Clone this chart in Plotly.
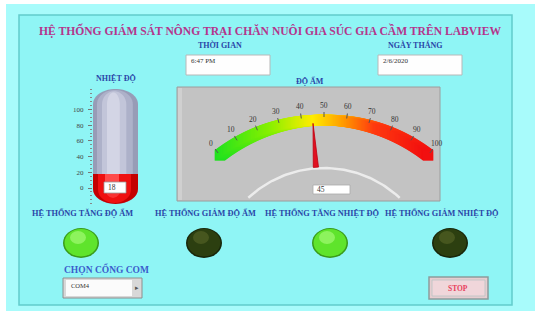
import numpy as np
import plotly.graph_objects as go

W, H = 535, 311

# ---------------- data ----------------
TITLE = "HỆ THỐNG GIÁM SÁT NÔNG TRẠI CHĂN NUÔI GIA SÚC GIA CẦM TRÊN LABVIEW"
TIME_LABEL = "THỜI GIAN"
TIME_VALUE = "6:47 PM"
DATE_LABEL = "NGÀY THÁNG"
DATE_VALUE = "2/6/2020"
TEMP_LABEL = "NHIỆT ĐỘ"
TEMP_VALUE = 18
TEMP_TICKS = [0, 20, 40, 60, 80, 100]
HUM_LABEL = "ĐỘ ẨM"
HUM_VALUE = 45
HUM_TICKS = [0, 10, 20, 30, 40, 50, 60, 70, 80, 90, 100]
LED_LABELS = ["HỆ THỐNG TĂNG ĐỘ ẨM", "HỆ THỐNG GIẢM ĐỘ ẨM",
              "HỆ THỐNG TĂNG NHIỆT ĐỘ", "HỆ THỐNG GIẢM NHIỆT ĐỘ"]
LED_STATES = [1, 0, 1, 0]
COM_LABEL = "CHỌN CỔNG COM"
COM_VALUE = "COM4"
STOP_LABEL = "STOP"

# ---------------- styling / layout constants ----------------
FONT = "Liberation Serif"
BLUE = "#2a46a8"
TITLE_COL = "#b4358c"

fig = go.Figure()
shapes = []
ann = []


def rect(x0, y0, x1, y1, fill, line="rgba(0,0,0,0)", lw=0, layer="below"):
    shapes.append(dict(type="rect", xref="x", yref="y", x0=x0, y0=y0, x1=x1, y1=y1,
                       fillcolor=fill, line=dict(color=line, width=lw), layer=layer))


def ellipse(x0, y0, x1, y1, fill, opacity=1, layer="below"):
    shapes.append(dict(type="circle", xref="x", yref="y", x0=x0, y0=y0, x1=x1, y1=y1,
                       fillcolor=fill, opacity=opacity, line=dict(width=0), layer=layer))


def text(x, y, s, size=8, color=BLUE, anchor="center", bold=True, family=FONT):
    ann.append(dict(x=x, y=y, xref="x", yref="y", text=s, showarrow=False,
                    xanchor=anchor, yanchor="middle",
                    font=dict(family=family, size=size, color=color,
                              weight=700 if bold else 400)))


def capsule_path(x0, x1, y0, y1, ry, n=24):
    rx = (x1 - x0) / 2
    cx = (x0 + x1) / 2
    t = np.linspace(np.pi, 0, n)
    top = [(cx + rx * np.cos(a), y0 + ry - ry * np.sin(a)) for a in t]
    t2 = np.linspace(0, np.pi, n)
    bot = [(cx + rx * np.cos(a), y1 - ry + ry * np.sin(a)) for a in t2]
    pts = top + bot
    return "M " + " L ".join(f"{px:.2f},{py:.2f}" for px, py in pts) + " Z"


# ---------------- background frame ----------------
rect(6, 4, W, H, "#a8fbfb")
rect(19, 15, 512, 305, "#8ff5f5", line="#62cccc", lw=1.5)

# ---------------- title & date/time ----------------
text(270, 30, TITLE, size=11.6, color=TITLE_COL)
text(220, 45, TIME_LABEL, size=8)
text(415, 45, DATE_LABEL, size=8)
rect(186, 55, 270, 75, "#fefefe", line="#b8b8b8", lw=1)
rect(378, 55, 462, 75, "#fefefe", line="#b8b8b8", lw=1)
text(189, 61, TIME_VALUE, size=7, color="#333", anchor="left", bold=False)
text(381, 61, DATE_VALUE, size=7, color="#333", anchor="left", bold=False)

# ---------------- thermometer ----------------
text(116, 78, TEMP_LABEL, size=8)
TX0, TX1, TTOP, TBOT, TRY = 93, 138, 89, 204, 15
T_Y0, T_S = 188.0, 0.785          # pixel of value 0, pixels per unit


def t_val(py):
    return (T_Y0 - py) / T_S


for inset, col in [(0, "#979cb6"), (4, "#adb1c9"), (9, "#c2c5d9"), (14, "#d3d5e5")]:
    shapes.append(dict(type="path", xref="x", yref="y",
                       path=capsule_path(TX0 + inset, TX1 - inset - inset * 0.3, TTOP + inset * 0.25,
                                         TBOT - inset * 0.25, TRY - inset * 0.2),
                       fillcolor=col, line=dict(width=0), layer="below"))
# red bulb at the bottom
ellipse(TX0, TBOT - 2 * TRY, TX1, TBOT, "#c40000")
ellipse(TX0 + 5, TBOT - 2 * TRY + 2, TX1 - 7, TBOT - 1, "#ef1010")
ellipse(TX0 + 12, TBOT - 2 * TRY + 4, TX1 - 17, TBOT - 6, "#ff4a4a", opacity=0.6)

bar_base = t_val(TBOT - TRY)
for w, col in [(1.0, "#c40000"), (0.74, "#ef1010"), (0.3, "#ff4a4a")]:
    fig.add_trace(go.Bar(x=[0.5 - (0.06 if w < 0.5 else 0.0) - (0.02 if w < 1 else 0)],
                         y=[TEMP_VALUE - bar_base], base=[bar_base], width=[w],
                         marker=dict(color=col, line=dict(width=0)),
                         xaxis="x2", yaxis="y2", hoverinfo="skip", showlegend=False))

rect(104, 182, 126, 193, "#ffffff", line="#999", lw=0.8, layer="above")
text(106, 187.5, str(TEMP_VALUE), size=7.5, color="#333", anchor="left", bold=False)

# ---------------- humidity gauge ----------------
text(310, 81, HUM_LABEL, size=8)
rect(177, 87, 440, 201, "#c3c3c3", line="#9c9c9c", lw=1)
rect(178, 88, 182, 200, "#d0d0d0")

GCX, GCY, GR, SPAN = 324.0, 291.0, 171.0, 37.5


def gauge_xy(v, r):
    th = np.radians(-SPAN + 2 * SPAN * np.asarray(v, dtype=float) / 100.0)
    return GCX + r * np.sin(th), GCY - r * np.cos(th)


# decorative lower arc
ang = np.linspace(-43, 43, 80)
ax_ = 324 + 111 * np.sin(np.radians(ang))
ay_ = 279 - 111 * np.cos(np.radians(ang))
fig.add_trace(go.Scatter(x=ax_, y=ay_, mode="lines", line=dict(color="#ececec", width=2.5),
                         hoverinfo="skip", showlegend=False))

vals = np.linspace(HUM_TICKS[0], HUM_TICKS[-1], 401)
bx, by = gauge_xy(vals, GR)
fig.add_trace(go.Scatter(
    x=bx, y=by, mode="markers",
    marker=dict(size=10.5, color=vals, cmin=0, cmax=100, symbol="square",
                colorscale=[[0, "#1fe21f"], [0.28, "#8af000"], [0.47, "#ffec00"],
                            [0.6, "#ffa000"], [0.75, "#ff3a10"], [1, "#f21010"]],
                line=dict(width=0)),
    hoverinfo="skip", showlegend=False))

for v in HUM_TICKS:
    x0, y0 = gauge_xy(v, GR + 3)
    x1, y1 = gauge_xy(v, GR + 8)
    fig.add_trace(go.Scatter(x=[x0, x1], y=[y0, y1], mode="lines",
                             line=dict(color="#555", width=1), hoverinfo="skip", showlegend=False))
    lx, ly = gauge_xy(v, GR + 15)
    text(float(lx), float(ly), str(v), size=7.5, color="#333", bold=False)

# needle
th = np.radians(-SPAN + 2 * SPAN * HUM_VALUE / 100.0)
tipx, tipy = gauge_xy(HUM_VALUE, 168)
bsx, bsy = gauge_xy(HUM_VALUE, 124)
px, py = np.cos(th), np.sin(th)
fig.add_trace(go.Scatter(
    x=[tipx, bsx + 2.6 * px, bsx - 2.6 * px, tipx],
    y=[tipy, bsy + 2.6 * py, bsy - 2.6 * py, tipy],
    mode="lines", fill="toself", fillcolor="#e01020", line=dict(color="#c00010", width=0.8),
    hoverinfo="skip", showlegend=False))

rect(313, 185, 350, 194, "#ffffff", line="#aaa", lw=0.8)
text(315, 189.5, str(HUM_VALUE), size=7.5, color="#333", anchor="left", bold=False)

# ---------------- LEDs ----------------
LED_X = [81, 204, 330, 450]
LED_LX = [82, 205, 322, 442]
for lx, cx, lab, st in zip(LED_LX, LED_X, LED_LABELS, LED_STATES):
    text(lx, 213, lab, size=8.3)
    if st:
        edge, body, hi = "#3a9c1a", "#5fe42c", "#b2ff86"
    else:
        edge, body, hi = "#18260a", "#2c3f10", "#5d6a2a"
    ellipse(cx - 18, 228, cx + 18, 258, edge)
    ellipse(cx - 16.5, 229, cx + 16.5, 256.5, body)
    ellipse(cx - 11, 231, cx + 5, 244, hi, opacity=0.55)

# ---------------- COM selector & STOP ----------------
text(106, 269, COM_LABEL, size=9.5, color="#3b5ccc")
rect(63, 278, 142, 298, "#d8d8d8", line="#8e8e8e", lw=1)
rect(66, 280, 132, 296, "#fbfbfb")
text(69, 285, COM_VALUE, size=6.5, color="#333", anchor="left", bold=False)
text(137, 288, "▸", size=7, color="#555", bold=False, family="DejaVu Sans")

rect(429, 277, 488, 299, "#e6cdd0", line="#8c9c9c", lw=1.5)
rect(432, 280, 485, 296, "#f0d6da", line="#b9c4c4", lw=0.8)
text(458, 288, STOP_LABEL, size=7.5, color="#e8405a")

# ---------------- layout ----------------
fig.update_layout(
    width=W, height=H, margin=dict(l=0, r=0, t=0, b=0),
    paper_bgcolor="#ffffff", plot_bgcolor="rgba(0,0,0,0)",
    barmode="overlay", bargap=0,
    xaxis=dict(range=[0, W], domain=[0, 1], visible=False, fixedrange=True),
    yaxis=dict(range=[H, 0], domain=[0, 1], visible=False, fixedrange=True),
    xaxis2=dict(range=[0, 1], domain=[TX0 / W, TX1 / W], visible=False, anchor="y2", fixedrange=True),
    yaxis2=dict(range=[t_val(TBOT), t_val(TTOP)], domain=[1 - TBOT / H, 1 - TTOP / H],
                anchor="x2", tickvals=TEMP_TICKS, ticks="outside", ticklen=4, tickcolor="#777",
                showgrid=False, zeroline=False, showline=False, ticklabelstandoff=3,
                minor=dict(dtick=5, ticks="outside", ticklen=2.5, tickcolor="#888"),
                tickfont=dict(family=FONT, size=7, color="#444"), fixedrange=True),
    shapes=shapes, annotations=ann, showlegend=False,
)

fig.write_html("out.html", config={"displayModeBar": False},
               post_script="document.body.style.margin='0';document.body.style.overflow='hidden';")
